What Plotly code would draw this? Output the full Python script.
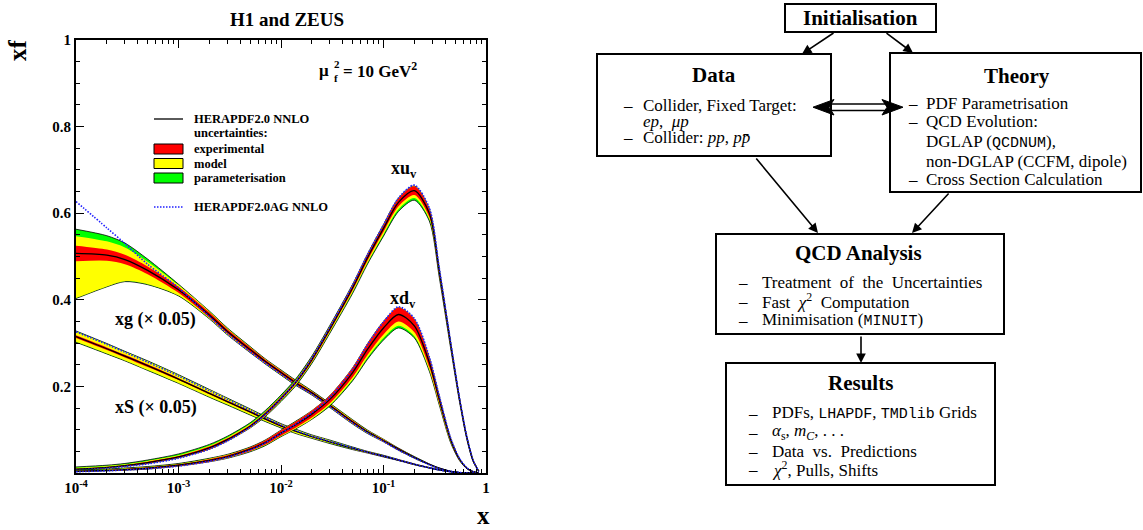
import plotly.graph_objects as go

W, H = 1143, 530
SERIF = "Liberation Serif, Times New Roman, DejaVu Serif, serif"
MONO = "Liberation Mono, DejaVu Sans Mono, monospace"
RED, YELLOW, GREEN = "#ff0000", "#ffff00", "#00ff00"
AG_BLUE = "#1f1fff"
AG_DOT = "1.5px,1.5px"

# x grid of the PDF curves
X = [1e-4, 2e-4, 3e-4, 5e-4, 1e-3, 2e-3, 3e-3, 5e-3, 7e-3, 1e-2, 1.4e-2, 2e-2,
     3e-2, 5e-2, 7e-2, 0.1, 0.14, 0.2, 0.28, 0.35, 0.45, 0.55, 0.65, 0.75, 0.85]

# xu_v : central, exp (+-), model up/down, param up/down (cumulative offsets), AG
UV_C = [0.009, 0.013, 0.017, 0.024, 0.037, 0.058, 0.077, 0.108, 0.136, 0.172, 0.210, 0.262,
        0.333, 0.428, 0.498, 0.565, 0.625, 0.652, 0.600, 0.465, 0.300, 0.172, 0.082, 0.028, 0.004]
UV_EXP = [0.001, 0.001, 0.0015, 0.002, 0.002, 0.003, 0.003, 0.003, 0.004, 0.004, 0.004, 0.005,
          0.005, 0.006, 0.007, 0.008, 0.009, 0.010, 0.009, 0.007, 0.005, 0.004, 0.003, 0.002, 0.001]
UV_MOD_UP = [0.003, 0.003, 0.003, 0.004, 0.004, 0.005, 0.005, 0.005, 0.005, 0.005, 0.005, 0.006,
             0.006, 0.007, 0.007, 0.008, 0.009, 0.010, 0.009, 0.007, 0.005, 0.004, 0.003, 0.002, 0.001]
UV_MOD_DN = [0.001, 0.001, 0.0015, 0.002, 0.002, 0.003, 0.003, 0.004, 0.005, 0.005, 0.006, 0.007,
             0.008, 0.010, 0.012, 0.014, 0.016, 0.017, 0.014, 0.010, 0.007, 0.005, 0.003, 0.002, 0.001]
UV_PAR_UP = [0.005, 0.005, 0.005, 0.006, 0.007, 0.008, 0.008, 0.008, 0.008, 0.008, 0.008, 0.008,
             0.008, 0.008, 0.008, 0.009, 0.010, 0.011, 0.010, 0.008, 0.006, 0.004, 0.003, 0.002, 0.001]
UV_PAR_DN = [0.001, 0.001, 0.0015, 0.002, 0.002, 0.003, 0.003, 0.004, 0.006, 0.007, 0.008, 0.009,
             0.010, 0.013, 0.015, 0.018, 0.021, 0.022, 0.018, 0.013, 0.009, 0.006, 0.004, 0.002, 0.001]
UV_AG = [0.007, 0.011, 0.015, 0.021, 0.034, 0.055, 0.074, 0.106, 0.135, 0.172, 0.211, 0.265,
         0.337, 0.434, 0.505, 0.573, 0.635, 0.665, 0.612, 0.473, 0.305, 0.175, 0.084, 0.029, 0.004]

# xd_v
DV_C = [0.004, 0.006, 0.008, 0.011, 0.018, 0.029, 0.038, 0.055, 0.070, 0.092, 0.112, 0.136,
        0.170, 0.232, 0.286, 0.335, 0.366, 0.340, 0.255, 0.170, 0.078, 0.032, 0.011, 0.003, 0.0004]
DV_EXP = [0.001, 0.001, 0.0015, 0.002, 0.002, 0.003, 0.003, 0.004, 0.005, 0.006, 0.007, 0.008,
          0.009, 0.011, 0.013, 0.015, 0.016, 0.015, 0.011, 0.008, 0.004, 0.002, 0.001, 0.0005, 0.0002]
DV_MOD_UP = [0.002, 0.002, 0.0025, 0.003, 0.003, 0.004, 0.004, 0.004, 0.005, 0.006, 0.007, 0.008,
             0.009, 0.011, 0.013, 0.015, 0.016, 0.015, 0.011, 0.008, 0.004, 0.002, 0.001, 0.0005, 0.0002]
DV_MOD_DN = [0.001, 0.001, 0.0015, 0.002, 0.002, 0.003, 0.004, 0.005, 0.006, 0.007, 0.009, 0.011,
             0.013, 0.016, 0.019, 0.023, 0.026, 0.024, 0.017, 0.011, 0.006, 0.003, 0.001, 0.0005, 0.0002]
DV_PAR_UP = [0.003, 0.003, 0.0035, 0.004, 0.004, 0.005, 0.005, 0.005, 0.006, 0.007, 0.008, 0.008,
             0.009, 0.011, 0.013, 0.015, 0.016, 0.015, 0.011, 0.008, 0.004, 0.002, 0.001, 0.0005, 0.0002]
DV_PAR_DN = [0.001, 0.001, 0.0015, 0.002, 0.002, 0.003, 0.004, 0.006, 0.007, 0.008, 0.010, 0.012,
             0.015, 0.019, 0.023, 0.028, 0.031, 0.028, 0.020, 0.013, 0.007, 0.003, 0.001, 0.0005, 0.0002]
DV_AG = [0.003, 0.005, 0.007, 0.010, 0.016, 0.027, 0.036, 0.053, 0.069, 0.092, 0.113, 0.139,
         0.175, 0.240, 0.297, 0.349, 0.384, 0.357, 0.268, 0.178, 0.082, 0.034, 0.012, 0.003, 0.0004]

# xg (x 0.05)
G_C = [0.507, 0.503, 0.493, 0.468, 0.423, 0.365, 0.327, 0.285, 0.258, 0.232, 0.208, 0.185,
       0.156, 0.118, 0.095, 0.075, 0.055, 0.036, 0.020, 0.011, 0.004, 0.001, 0.0002, 0.0, 0.0]
G_EXP = [0.018, 0.013, 0.011, 0.009, 0.007, 0.006, 0.005, 0.005, 0.004, 0.004, 0.004, 0.003,
         0.003, 0.003, 0.002, 0.002, 0.002, 0.001, 0.001, 0.0005, 0.0003, 0.0001, 0.0, 0.0, 0.0]
G_MOD_UP = [0.040, 0.032, 0.028, 0.020, 0.011, 0.008, 0.007, 0.006, 0.005, 0.005, 0.005, 0.004,
            0.004, 0.004, 0.003, 0.003, 0.002, 0.0015, 0.001, 0.0005, 0.0003, 0.0001, 0.0, 0.0, 0.0]
G_MOD_DN = [0.103, 0.072, 0.050, 0.032, 0.013, 0.008, 0.007, 0.006, 0.005, 0.005, 0.005, 0.004,
            0.004, 0.004, 0.003, 0.003, 0.002, 0.0015, 0.001, 0.0005, 0.0003, 0.0001, 0.0, 0.0, 0.0]
G_PAR_UP = [0.056, 0.045, 0.038, 0.026, 0.013, 0.009, 0.008, 0.007, 0.006, 0.006, 0.006, 0.005,
            0.005, 0.005, 0.004, 0.003, 0.0025, 0.002, 0.001, 0.0005, 0.0003, 0.0001, 0.0, 0.0, 0.0]
G_PAR_DN = [0.104, 0.073, 0.051, 0.033, 0.014, 0.009, 0.008, 0.007, 0.006, 0.006, 0.006, 0.005,
            0.005, 0.005, 0.004, 0.003, 0.0025, 0.002, 0.001, 0.0005, 0.0003, 0.0001, 0.0, 0.0, 0.0]
G_AG = [0.627, 0.566, 0.530, 0.482, 0.428, 0.361, 0.322, 0.280, 0.254, 0.228, 0.204, 0.182,
        0.153, 0.115, 0.093, 0.073, 0.053, 0.035, 0.019, 0.010, 0.004, 0.001, 0.0002, 0.0, 0.0]

# xS (x 0.05)
S_C = [0.315, 0.287, 0.270, 0.248, 0.217, 0.184, 0.165, 0.141, 0.125, 0.109, 0.096, 0.084,
       0.072, 0.057, 0.048, 0.039, 0.030, 0.020, 0.012, 0.007, 0.003, 0.001, 0.0002, 0.0, 0.0]
S_EXP = [0.003, 0.003, 0.003, 0.003, 0.002, 0.002, 0.002, 0.002, 0.002, 0.002, 0.001, 0.001,
         0.001, 0.001, 0.001, 0.001, 0.001, 0.0005, 0.0003, 0.0002, 0.0001, 0.0, 0.0, 0.0, 0.0]
S_MOD = [0.012, 0.011, 0.010, 0.010, 0.009, 0.008, 0.007, 0.006, 0.005, 0.004, 0.004, 0.003,
         0.003, 0.002, 0.002, 0.0015, 0.001, 0.0008, 0.0005, 0.0003, 0.0001, 0.0, 0.0, 0.0, 0.0]
S_PAR = [0.013, 0.012, 0.011, 0.011, 0.010, 0.009, 0.008, 0.007, 0.006, 0.005, 0.005, 0.004,
         0.004, 0.003, 0.002, 0.002, 0.0012, 0.001, 0.0006, 0.0004, 0.0001, 0.0, 0.0, 0.0, 0.0]
S_AG = [0.326, 0.297, 0.279, 0.256, 0.224, 0.190, 0.170, 0.145, 0.128, 0.111, 0.098, 0.085,
        0.073, 0.058, 0.048, 0.039, 0.030, 0.020, 0.012, 0.007, 0.003, 0.001, 0.0002, 0.0, 0.0]

X_TICKS = [1e-4, 1e-3, 1e-2, 1e-1, 1]
X_TICK_TEXT = ["10<sup>-4</sup>", "10<sup>-3</sup>", "10<sup>-2</sup>", "10<sup>-1</sup>", "1"]
Y_TICKS = [0.2, 0.4, 0.6, 0.8, 1.0]
Y_TICK_TEXT = ["0.2", "0.4", "0.6", "0.8", "1"]


def px(x):
    return x / W


def py(y):
    return 1 - y / H


fig = go.Figure()


def line_trace(y, color, width, dash="solid", fill=None, fillcolor=None):
    fig.add_trace(go.Scatter(x=X, y=y, mode="lines", fill=fill, fillcolor=fillcolor,
                             line=dict(color=color, width=width, dash=dash, shape="spline", smoothing=0.8),
                             showlegend=False, hoverinfo="skip"))


def band(lo, hi, color, edge):
    w = 0.8 if edge else 0
    line_trace(lo, "black", w)
    line_trace(hi, "black", w, fill="tonexty", fillcolor=color)


def add_pdf(c, exp, mod_up, mod_dn, par_up, par_dn, ag):
    lo = lambda off: [a - b for a, b in zip(c, off)]
    hi = lambda off: [a + b for a, b in zip(c, off)]
    band(lo(par_dn), hi(par_up), GREEN, True)
    band(lo(mod_dn), hi(mod_up), YELLOW, False)
    band(lo(exp), hi(exp), RED, False)
    line_trace(c, "black", 1.3)
    line_trace(ag, AG_BLUE, 1.6, dash=AG_DOT)


add_pdf(G_C, G_EXP, G_MOD_UP, G_MOD_DN, G_PAR_UP, G_PAR_DN, G_AG)
add_pdf(S_C, S_EXP, S_MOD, S_MOD, S_PAR, S_PAR, S_AG)
add_pdf(UV_C, UV_EXP, UV_MOD_UP, UV_MOD_DN, UV_PAR_UP, UV_PAR_DN, UV_AG)
add_pdf(DV_C, DV_EXP, DV_MOD_UP, DV_MOD_DN, DV_PAR_UP, DV_PAR_DN, DV_AG)

axis_font = dict(family=SERIF, size=15, color="black", weight="bold")
fig.update_xaxes(type="log", range=[-4, 0], domain=[px(76), px(486)],
                 tickvals=X_TICKS, ticktext=X_TICK_TEXT, tickfont=axis_font,
                 ticks="inside", ticklen=8, tickwidth=1.3, tickcolor="black",
                 minor=dict(tickvals=[k * 10 ** e for e in range(-4, 0) for k in range(2, 10)],
                            ticks="inside", ticklen=4, tickwidth=1, tickcolor="black"),
                 showline=True, linewidth=2, linecolor="black", mirror="allticks",
                 showgrid=False, zeroline=False, automargin=False)
fig.update_yaxes(range=[0, 1], domain=[py(473), py(40)],
                 tickvals=Y_TICKS, ticktext=Y_TICK_TEXT, tickfont=axis_font,
                 ticks="inside", ticklen=8, tickwidth=1.3, tickcolor="black",
                 minor=dict(tickvals=[i * 0.05 for i in range(1, 20)],
                            ticks="inside", ticklen=4, tickwidth=1, tickcolor="black"),
                 showline=True, linewidth=2, linecolor="black", mirror="allticks",
                 showgrid=False, zeroline=False, automargin=False)

shapes = []
annotations = []


def text(x, y, s, size, bold=False, xanchor="left", family=SERIF, angle=0):
    annotations.append(dict(x=px(x), y=py(y), xref="paper", yref="paper", text=s,
                            showarrow=False, xanchor=xanchor, yanchor="middle", textangle=angle,
                            font=dict(family=family, size=size, color="black",
                                      weight="bold" if bold else "normal")))


# ---- left plot labels
text(287, 20, "H1 and ZEUS", 19, True, "center")
text(18, 50, "xf", 25, True, "center", angle=-90)
text(483, 515, "x", 25, True, "center")
text(331, 71, "μ", 17, True, "right")
text(332, 64, "2", 11, True)
text(332, 78, "f", 11, True)
text(341, 70, "= 10 GeV<sup>2</sup>", 17, True)
text(389, 169, "xu<sub>v</sub>", 18, True)
text(388, 299, "xd<sub>v</sub>", 18, True)
text(113, 319, "xg (× 0.05)", 18, True)
text(113, 407, "xS (× 0.05)", 18, True)

# legend
LEG_X0, LEG_X1, LEG_TX = 154, 183, 192
shapes.append(dict(type="line", xref="paper", yref="paper", x0=px(LEG_X0), x1=px(LEG_X1),
                   y0=py(119), y1=py(119), line=dict(color="black", width=1.3)))
text(LEG_TX, 119, "HERAPDF2.0 NNLO", 12.5, True)
text(LEG_TX, 133, "uncertainties:", 12.5, True)
for yc, col, lab in [(149, RED, "experimental"), (163.5, YELLOW, "model"), (178, GREEN, "parameterisation")]:
    shapes.append(dict(type="rect", xref="paper", yref="paper", x0=px(LEG_X0), x1=px(LEG_X1),
                       y0=py(yc - 5), y1=py(yc + 5), fillcolor=col, line=dict(color="black", width=1)))
    text(LEG_TX, yc, lab, 12.5, True)
shapes.append(dict(type="line", xref="paper", yref="paper", x0=px(LEG_X0), x1=px(LEG_X1),
                   y0=py(207), y1=py(207), line=dict(color=AG_BLUE, width=1.6, dash=AG_DOT)))
text(LEG_TX, 207, "HERAPDF2.0AG NNLO", 12.5, True)

# ---- flowchart
BOXES = [(785, 4, 936, 32), (597, 54, 831, 156), (890, 53, 1141, 192),
         (716, 234, 1004, 334), (726, 363, 995, 485)]
for x0, y0, x1, y1 in BOXES:
    shapes.append(dict(type="rect", xref="paper", yref="paper", x0=px(x0), x1=px(x1),
                       y0=py(y0), y1=py(y1), line=dict(color="black", width=2)))


def mono(s):
    return '<span style="font-family:%s;font-size:15px">%s</span>' % (MONO, s)


TITLES = [(860, 18, "Initialisation"), (714, 75, "Data"), (1017, 76, "Theory"),
          (858, 253, "QCD Analysis"), (860, 383, "Results")]
for x, y, s in TITLES:
    text(x, y, s, 21, True, "center")

DATA_ITEMS = [(True, "Collider, Fixed Target:"), (False, "<i>ep</i>,  <i>μp</i>"),
              (True, "Collider: <i>pp</i>, <i>pp̄</i>")]
THEORY_ITEMS = [(True, "PDF Parametrisation"), (True, "QCD Evolution:"),
                (False, "DGLAP (" + mono("QCDNUM") + "),"), (False, "non-DGLAP (CCFM, dipole)"),
                (True, "Cross Section Calculation")]
QCD_ITEMS = [(True, "Treatment  of  the  Uncertainties"), (True, "Fast  <i>χ</i><sup>2</sup>  Computation"),
             (True, "Minimisation (" + mono("MINUIT") + ")")]
RESULT_ITEMS = [(True, "PDFs, " + mono("LHAPDF") + ", " + mono("TMDlib") + " Grids"),
                (True, "<i>α</i><sub>s</sub>, <i>m</i><sub><i>C</i></sub>, . . ."),
                (True, "Data  vs.  Predictions"), (True, "<i>χ</i><sup>2</sup>, Pulls, Shifts")]

for items, dash_x, text_x, ys in [(DATA_ITEMS, 628, 641, [105, 121.5, 138]),
                                  (THEORY_ITEMS, 913, 924, [103, 122, 142, 161, 180]),
                                  (QCD_ITEMS, 743, 760, [282, 301, 320]),
                                  (RESULT_ITEMS, 753, 770, [413, 432, 451, 469])]:
    for (bullet, s), y in zip(items, ys):
        if bullet:
            text(dash_x, y, "–", 17, False, "center")
        text(text_x, y, s, 17)

ARROWS = [((835, 32), (802, 54)), ((885, 32), (913, 53)), ((755, 157), (818, 233)),
          ((950, 192), (912, 233)), ((861, 335), (861, 363))]
for (sx, sy), (tx, ty) in ARROWS:
    annotations.append(dict(x=px(tx), y=py(ty), xref="paper", yref="paper", text="",
                            showarrow=True, ax=sx - tx, ay=sy - ty, arrowhead=2, arrowsize=1.2,
                            arrowwidth=1.6, arrowcolor="black", standoff=0, startstandoff=0))

# double arrow between Data and Theory
for yy in (104, 110.5):
    shapes.append(dict(type="line", xref="paper", yref="paper", x0=px(828), x1=px(888),
                       y0=py(yy), y1=py(yy), line=dict(color="black", width=1.5)))


def path(pts):
    return "M " + " L ".join("%.5f,%.5f" % (px(a), py(b)) for a, b in pts) + " Z"


shapes.append(dict(type="path", xref="paper", yref="paper", fillcolor="black", line=dict(color="black", width=1),
                   path=path([(813, 107.2), (834, 99.5), (829, 107.2), (834, 115)])))
shapes.append(dict(type="path", xref="paper", yref="paper", fillcolor="black", line=dict(color="black", width=1),
                   path=path([(903, 107.2), (882, 99.5), (887, 107.2), (882, 115)])))

fig.update_layout(width=W, height=H, autosize=False, margin=dict(l=0, r=0, t=0, b=0),
                  paper_bgcolor="white", plot_bgcolor="white", showlegend=False,
                  font=dict(family=SERIF, color="black"), shapes=shapes, annotations=annotations)

# the page body has a default 8px margin; drop it so the figure sits at the window origin
fig.write_html("out.html", config={"displayModeBar": False},
               post_script="document.body.style.margin='0';")
